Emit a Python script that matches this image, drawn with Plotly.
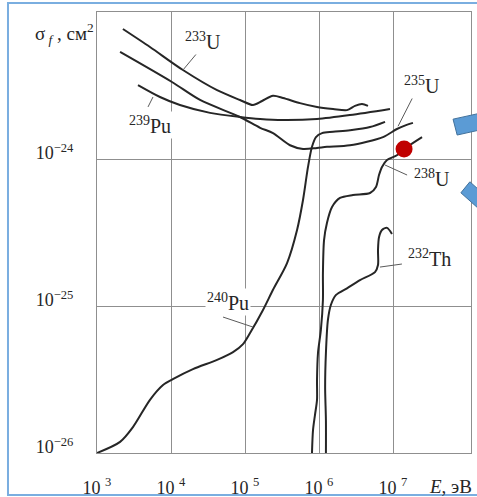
import math
import plotly.graph_objects as go

# Fission cross-sections sigma_f (cm^2) versus neutron energy E (eV)
u233_E = [2.24e3, 5.20e3, 1.45e4, 4.19e4, 8.55e4, 1.28e5, 1.70e5, 2.39e5, 3.27e5,
          5.53e5, 9.40e5, 1.55e6, 2.39e6, 3.06e6, 3.81e6, 4.59e6]
u233_S = [7.66e-24, 5.78e-24, 4.03e-24, 2.94e-24, 2.52e-24, 2.33e-24, 2.48e-24, 2.69e-24,
          2.60e-24, 2.40e-24, 2.26e-24, 2.19e-24, 2.15e-24, 2.30e-24, 2.37e-24, 2.30e-24]

u235_E = [2.05e3, 1.03e4, 2.47e4, 8.55e4, 1.60e5, 2.39e5, 4.06e5, 6.08e5, 9.40e5,
          1.28e6, 2.62e6, 7.33e6, 1.13e7, 1.50e7, 1.86e7]
u235_S = [5.35e-24, 3.34e-24, 2.52e-24, 1.93e-24, 1.63e-24, 1.50e-24, 1.24e-24, 1.17e-24,
          1.19e-24, 1.21e-24, 1.24e-24, 1.41e-24, 1.60e-24, 1.70e-24, 1.76e-24]

pu239_E = [3.58e3, 7.10e3, 1.32e4, 3.37e4, 8.55e4, 1.60e5, 3.27e5, 9.40e5, 2.62e6, 9.10e6]
pu239_S = [3.18e-24, 2.64e-24, 2.33e-24, 2.06e-24, 1.93e-24, 1.87e-24, 1.84e-24, 1.87e-24,
           1.99e-24, 2.19e-24]

pu240_E = [1.00e3, 2.05e3, 3.06e3, 5.20e3, 7.80e3, 1.06e4, 1.98e4, 4.19e4, 6.89e4, 9.40e4,
           1.17e5, 1.75e5, 2.39e5, 3.70e5, 5.05e5, 6.08e5, 7.10e5, 8.04e5, 9.10e5, 1.10e6,
           1.55e6, 2.62e6, 4.89e6, 7.80e6]
pu240_S = [1.00e-26, 1.19e-26, 1.50e-26, 2.30e-26, 2.90e-26, 3.18e-26, 3.72e-26, 4.30e-26,
           4.86e-26, 5.51e-26, 6.55e-26, 9.40e-26, 1.29e-25, 1.96e-25, 3.29e-25, 5.26e-25,
           8.83e-25, 1.21e-24, 1.41e-24, 1.50e-24, 1.53e-24, 1.57e-24, 1.65e-24, 1.79e-24]

u238_E = [8.04e5, 8.30e5, 8.83e5, 9.40e5, 9.40e5, 9.69e5, 1.06e6, 1.13e6, 1.13e6, 1.17e6,
          1.28e6, 1.50e6, 1.92e6, 2.88e6, 4.89e6, 5.89e6, 6.47e6, 7.10e6, 8.30e6, 1.13e7,
          1.41e7, 2.47e7]
u238_S = [1.00e-26, 1.43e-26, 1.82e-26, 2.30e-26, 3.14e-26, 4.79e-26, 6.87e-26, 1.10e-25,
          1.67e-25, 2.81e-25, 3.67e-25, 4.71e-25, 5.43e-25, 5.69e-25, 5.87e-25, 6.46e-25,
          7.78e-25, 8.83e-25, 9.84e-25, 1.06e-24, 1.17e-24, 1.41e-24]

th232_E = [1.24e6, 1.24e6, 1.21e6, 1.24e6, 1.32e6, 1.45e6, 1.70e6, 2.39e6, 3.58e6, 5.71e6,
           6.27e6, 6.27e6, 6.47e6, 7.10e6, 8.30e6, 9.68e6]
th232_S = [1.00e-26, 1.67e-26, 2.81e-26, 4.79e-26, 8.04e-26, 1.02e-25, 1.19e-25, 1.32e-25,
           1.50e-25, 1.70e-25, 1.90e-25, 2.40e-25, 2.94e-25, 3.29e-25, 3.40e-25, 3.09e-25]

# highlighted point on the 238U curve
mark_E = [1.41e7]
mark_S = [1.17e-24]

# curve labels and their leader lines (start, end)
label_text = ["<sup>233</sup>U", "<sup>239</sup>Pu", "<sup>235</sup>U",
              "<sup>238</sup>U", "<sup>232</sup>Th", "<sup>240</sup>Pu"]
label_E = [2.70e4, 5.2e3, 2.47e7, 3.37e7, 3.16e7, 5.89e4]
label_S = [6.35e-24, 1.70e-24, 3.18e-24, 7.43e-25, 2.12e-25, 1.06e-25]
leader_E = [[2.32e4, 1.45e4], [5.71e3, 4.89e3], [1.98e7, 1.17e7],
            [7.80e6, 1.55e7], [6.67e6, 1.32e7], [5.05e4, 1.28e5]]
leader_S = [[5.35e-24, 4.03e-24], [2.64e-24, 2.26e-24], [2.81e-24, 1.67e-24],
            [9.10e-25, 7.78e-25], [1.84e-25, 1.93e-25], [8.41e-26, 7.19e-26]]

x_ticks = [1e3, 1e4, 1e5, 1e6, 1e7]
x_ticktext = ["10 <sup>3</sup>", "10 <sup>4</sup>", "10 <sup>5</sup>",
              "10 <sup>6</sup>", "10 <sup>7</sup>"]
y_ticks = [1e-26, 1e-25, 1e-24]
y_ticktext = ["10<sup>−26</sup>", "10<sup>−25</sup>", "10<sup>−24</sup>"]

SERIF = "Liberation Serif, Times New Roman, serif"
INK = "#262626"
GRID = "#8f8f8f"

fig = go.Figure()

for xs, ys in [(u233_E, u233_S), (u235_E, u235_S), (pu239_E, pu239_S),
               (pu240_E, pu240_S), (u238_E, u238_S), (th232_E, th232_S)]:
    fig.add_trace(go.Scatter(x=xs, y=ys, mode="lines",
                             line=dict(color=INK, width=2, shape="spline", smoothing=0.8),
                             hoverinfo="skip", showlegend=False))

for xs, ys in zip(leader_E, leader_S):
    fig.add_trace(go.Scatter(x=xs, y=ys, mode="lines",
                             line=dict(color="#5a5a5a", width=1),
                             hoverinfo="skip", showlegend=False))

fig.add_trace(go.Scatter(x=mark_E, y=mark_S, mode="markers",
                         marker=dict(color="#c00000", size=17),
                         hoverinfo="skip", showlegend=False))

for txt, e, s in zip(label_text, label_E, label_S):
    fig.add_annotation(x=math.log10(e), y=math.log10(s), xref="x", yref="y",
                       xanchor="center", yanchor="middle",
                       text=txt, showarrow=False, bgcolor="white", borderpad=1,
                       font=dict(family=SERIF, size=20, color=INK))

# axis titles
fig.add_annotation(x=-0.168, y=0.951, xref="paper", yref="paper",
                   xanchor="left", yanchor="middle",
                   text="σ<sub> <i>f</i></sub> , см<sup>2</sup>", showarrow=False,
                   bgcolor="white", borderpad=0,
                   font=dict(family=SERIF, size=19, color=INK))
fig.add_annotation(x=0.944, y=-0.075, xref="paper", yref="paper",
                   xanchor="center", yanchor="middle",
                   text="<i>E</i>, эВ", showarrow=False,
                   font=dict(family=SERIF, size=19, color=INK))

# slide frame and pointer arrows
fig.add_shape(type="rect", xref="paper", yref="paper",
              x0=-0.238, x1=1.03, y0=-0.0952, y1=1.0204,
              line=dict(color="#7aaee0", width=2), layer="below")
fig.add_shape(type="path", xref="paper", yref="paper",
              path="M0.952,0.757 L0.963,0.721 L1.037,0.735 L1.027,0.771 Z",
              fillcolor="#5b9bd5", line=dict(color="#41719c", width=1))
fig.add_shape(type="path", xref="paper", yref="paper",
              path="M0.973,0.590 L0.997,0.615 L1.051,0.574 L1.027,0.549 Z",
              fillcolor="#5b9bd5", line=dict(color="#41719c", width=1))

fig.update_xaxes(type="log", range=[3, 8.054], tickvals=x_ticks, ticktext=x_ticktext,
                 showgrid=True, gridcolor=GRID, gridwidth=1, automargin=False,
                 showline=True, mirror=True, linecolor=GRID, linewidth=1,
                 ticks="", ticklabelstandoff=18, zeroline=False,
                 tickfont=dict(family=SERIF, size=18, color=INK))
fig.update_yaxes(type="log", range=[-26, -23], tickvals=y_ticks, ticktext=y_ticktext,
                 showgrid=True, gridcolor=GRID, gridwidth=1, automargin=False,
                 showline=True, mirror=True, linecolor=GRID, linewidth=1,
                 ticks="", ticklabelstandoff=19, ticklabelshift=-6, zeroline=False,
                 tickfont=dict(family=SERIF, size=18, color=INK))

fig.update_layout(width=477, height=497, autosize=False,
                  margin=dict(l=97, r=6, t=12, b=44),
                  paper_bgcolor="white", plot_bgcolor="white")

fig.write_html("out.html")
